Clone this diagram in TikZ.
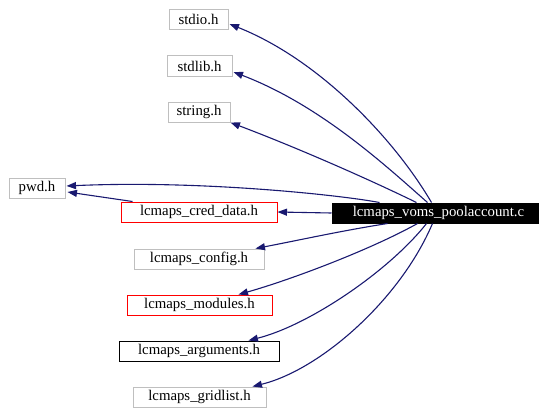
\documentclass[tikz,border=0pt]{standalone}
\usepackage{fontspec}
\setmainfont{Liberation Serif}
\usetikzlibrary{arrows.meta}
\definecolor{edgeblue}{HTML}{191970}
\definecolor{boxgray}{HTML}{BFBFBF}
\begin{document}
\begin{tikzpicture}[x=1pt,y=-1pt,
  hbox/.style={draw=boxgray,line width=1pt,fill=white,inner sep=0pt,minimum height=20pt,font=\fontsize{14.8}{15}\selectfont},
  redbox/.style={hbox,draw=red},
  blackbox/.style={hbox,draw=black},
  mainbox/.style={hbox,draw=black,fill=black,text=white},
  dep/.style={draw=edgeblue,line width=1.1pt,-{Triangle[length=9.5pt,width=7pt]}}]
\useasboundingbox (0,0) rectangle (539,408);
\node[hbox,minimum width=59pt] (stdio) at (198.5,19) {stdio.h};
\node[hbox,minimum width=65pt,minimum height=21pt] (stdlib) at (199.5,66) {stdlib.h};
\node[hbox,minimum width=62pt] (string) at (199,112) {string.h};
\node[hbox,minimum width=56pt] (pwd) at (37,188) {pwd.h};
\node[redbox,minimum width=156pt] (cred) at (199,212) {lcmaps\_cred\_data.h};
\node[mainbox,minimum width=207pt] (main) at (435.5,213) {\hspace{6pt}lcmaps\_voms\_poolaccount.c};
\node[hbox,minimum width=130pt] (config) at (199,259) {lcmaps\_config.h};
\node[redbox,minimum width=145pt] (modules) at (199.5,305) {lcmaps\_modules.h};
\node[blackbox,minimum width=160pt] (arguments) at (199,351) {lcmaps\_arguments.h};
\node[hbox,minimum width=133pt] (gridlist) at (199.5,397) {lcmaps\_gridlist.h};

\draw[dep] ([xshift=100pt]main.north west) .. controls (395,140) and (320,60) .. ([xshift=1pt,yshift=-5pt]stdio.east);
\draw[dep] ([xshift=96pt]main.north west) .. controls (385,165) and (320,105) .. ([xshift=1pt,yshift=-6pt]stdlib.east);
\draw[dep] ([xshift=85pt]main.north west) .. controls (360,175) and (290,145) .. (string.south east);
\draw[dep] ([xshift=48pt]main.north west) .. controls (340,195) and (200,180) .. ([xshift=1pt,yshift=2pt]pwd.east);
\draw[dep] (cred.north west) ++(12pt,0) coordinate (cq) (cq) -- ([xshift=2pt,yshift=-4pt]pwd.east);
\draw[dep] (main.west) -- (cred.east);
\draw[dep] ([xshift=56pt]main.south west) .. controls (340,231) and (300,240) .. ([xshift=-9pt]config.north east);
\draw[dep] ([xshift=86pt]main.south west) .. controls (370,250) and (290,280) .. ([xshift=-34pt]modules.north east);
\draw[dep] ([xshift=95pt]main.south west) .. controls (390,270) and (310,325) .. ([xshift=-31pt]arguments.north east);
\draw[dep] ([xshift=101pt]main.south west) .. controls (400,300) and (320,370) .. ([xshift=-14pt]gridlist.north east);
\end{tikzpicture}
\end{document}
